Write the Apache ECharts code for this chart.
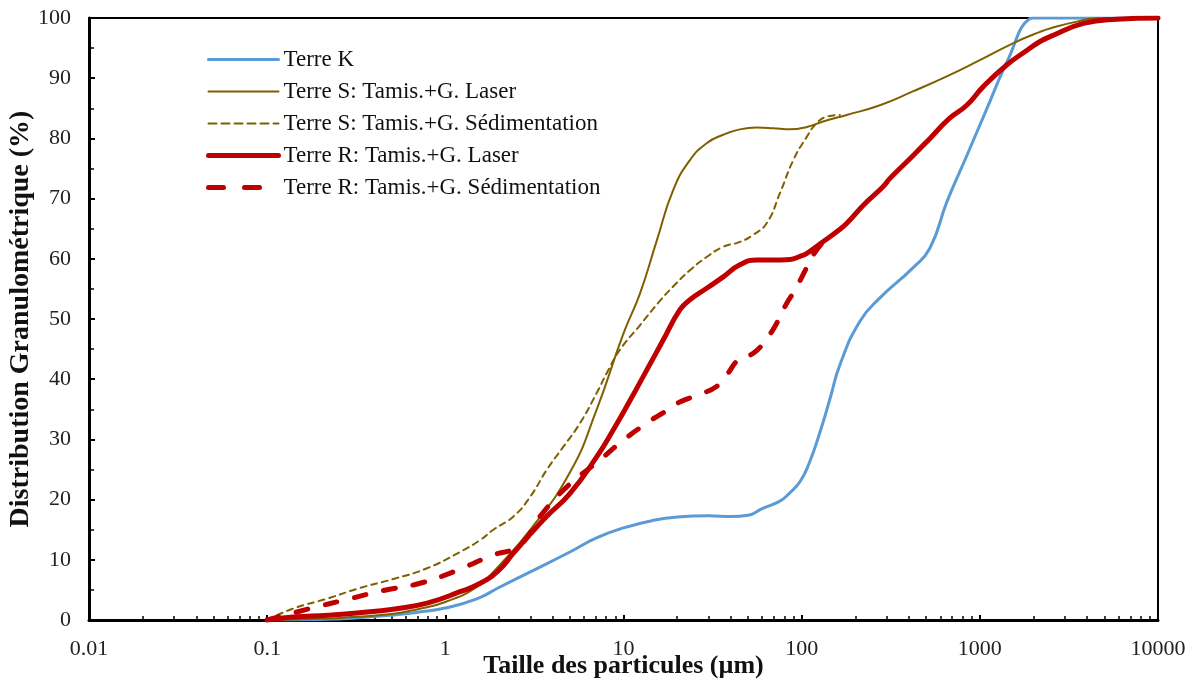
<!DOCTYPE html>
<html>
<head>
<meta charset="utf-8">
<script src="https://cdn.jsdelivr.net/npm/echarts@6/dist/echarts.min.js"></script>
<style>html,body{margin:0;padding:0;background:#fff}#c{width:1193px;height:680px}</style>
</head>
<body>
<div id="c"></div>
<script>
// ---- Data (particle size in µm, cumulative %) ----
const seriesNames = [
  'Terre K',
  'Terre S: Tamis.+G. Laser',
  'Terre S: Tamis.+G. Sédimentation',
  'Terre R: Tamis.+G. Laser',
  'Terre R: Tamis.+G. Sédimentation'
];
const xTickLabels = ['0.01', '0.1', '1', '10', '100', '1000', '10000'];

const kX = [0.1, 0.2, 0.3, 0.5, 0.7, 1, 1.5, 2, 3, 5, 7, 10, 15, 20, 30, 40, 50, 60, 75, 85, 98, 110, 127, 145, 164, 212, 275, 421, 525, 654, 847, 1097, 1420, 1911, 2000, 10000];
const kY = [0, 0.1, 0.3, 0.8, 1.3, 2.0, 3.5, 5.4, 8.0, 11.3, 13.6, 15.3, 16.6, 17.1, 17.3, 17.2, 17.4, 18.5, 19.7, 21, 23, 26, 31.3, 37, 42.4, 49.6, 53.5, 58.5, 61.8, 69.5, 77.2, 85, 92.7, 99.9, 100, 100];

const sLaserX = [0.1, 0.2, 0.3, 0.5, 0.7, 1, 1.5, 2, 3, 5, 7, 10, 12.4, 15.4, 19, 23.6, 29.3, 36.2, 45, 56, 69, 86, 107, 132, 179, 275, 421, 652, 1000, 1535, 2178, 2500, 3500, 4700, 10000];
const sLaserY = [0, 0.2, 0.5, 1.0, 1.8, 3.0, 5.5, 9, 15, 24.5, 34.6, 47.6, 54.3, 63.1, 71.4, 76.4, 79.2, 80.6, 81.5, 81.8, 81.7, 81.5, 81.9, 82.8, 83.9, 85.5, 87.8, 90.3, 93, 95.8, 97.7, 98.3, 99.4, 100, 100];

const sSedX = [0.1, 0.14, 0.22, 0.33, 0.51, 0.79, 1.21, 1.57, 1.86, 2.41, 3, 3.7, 4.6, 5.7, 7.07, 8.05, 9.56, 12.4, 16, 19, 23.6, 29.3, 36.3, 45, 53.5, 63.6, 75.5, 89.8, 107, 121, 138, 164];
const sSedY = [0, 1.9, 3.6, 5.3, 6.8, 8.6, 11.3, 13.3, 15, 17.2, 20.5, 24.9, 28.8, 32.7, 37.7, 41, 44.9, 49, 53, 55.4, 58.1, 60.3, 62, 62.8, 64, 65.9, 70.9, 76.4, 80.3, 82.5, 83.6, 83.9];

const rLaserX = [0.1, 0.14, 0.22, 0.33, 0.51, 0.79, 1.21, 1.57, 2, 2.41, 3, 3.7, 5, 7.07, 8.77, 10.9, 13.5, 16.7, 20.7, 23.6, 29.3, 36.3, 45, 56, 69, 86, 98, 107, 127, 164, 186, 222, 287, 314, 424, 525, 680, 844, 1045, 1415, 1833, 2178, 2477, 3809, 5866, 10000];
const rLaserY = [0, 0.5, 0.8, 1.2, 1.8, 2.8, 4.7, 6.1, 8.3, 11.1, 14.3, 17.2, 21, 27.1, 31.6, 36.5, 41.5, 46.5, 51.5, 53.2, 55.1, 57, 59, 59.8, 59.8, 59.9, 60.4, 60.9, 62.5, 64.9, 66.4, 68.9, 72, 73.4, 77.2, 80, 83.4, 85.5, 88.6, 92.2, 94.6, 96.1, 96.9, 99.1, 99.8, 100];

const rSedX = [0.1, 0.174, 0.279, 0.449, 0.721, 1.11, 1.78, 2.63, 3.4, 4.8, 7.38, 10, 13.8, 15.4, 17.1, 20.7, 26.3, 33.3, 37.9, 45.1, 53.5, 64.5, 72.4, 82.4, 91.7, 104, 114, 138, 150];
const rSedY = [0, 1.9, 3.4, 4.9, 6.1, 8.0, 10.6, 12.5, 17.2, 22.1, 26.6, 29.9, 32.9, 33.8, 34.6, 36.2, 37.4, 38.8, 40.7, 43.5, 44.3, 47, 49.3, 52.6, 54.8, 57.9, 60.3, 63.4, 64.2];

const zip = (xs, ys) => xs.map((x, i) => [x, ys[i]]);

const FONT = '"Liberation Serif", "Times New Roman", serif';
const chart = echarts.init(document.getElementById('c'), null, { renderer: 'canvas' });

const styles = [
  { color: '#5B9BD5', width: 3, type: 'solid', legendType: 'solid' },
  { color: '#7F6000', width: 2, type: 'solid', legendType: 'solid' },
  { color: '#7F6000', width: 2, type: [6, 5], legendType: [8, 5] },
  { color: '#C00000', width: 5, type: 'solid', legendType: 'solid' },
  { color: '#C00000', width: 5, type: [12, 18], legendType: [15, 21] }
];
const datasets = [zip(kX, kY), zip(sLaserX, sLaserY), zip(sSedX, sSedY), zip(rLaserX, rLaserY), zip(rSedX, rSedY)];

chart.setOption({
  animation: false,
  backgroundColor: '#fff',
  textStyle: { fontFamily: FONT, color: '#111' },
  grid: { left: 89, right: 35, top: 18, bottom: 60, show: true, borderColor: '#000', borderWidth: 2, containLabel: false, outerBoundsMode: 'none' },
  legend: {
    show: true, orient: 'vertical', left: 201, top: 43,
    itemWidth: 70, itemHeight: 14, itemGap: 9,
    itemStyle: { opacity: 0, borderWidth: 0 },
    textStyle: { fontFamily: FONT, fontSize: 23, color: '#111', lineHeight: 23 },
    data: seriesNames.map((n, i) => ({
      name: n,
      itemStyle: { opacity: 0, borderWidth: 0 },
      lineStyle: { color: styles[i].color, width: styles[i].width, type: styles[i].legendType, cap: 'round' }
    }))
  },
  xAxis: {
    type: 'log', logBase: 10, min: 0.01, max: 10000,
    name: 'Taille des particules (µm)', nameLocation: 'middle', nameGap: 33, nameMoveOverlap: false,
    nameTextStyle: { fontFamily: FONT, fontSize: 26, fontWeight: 'bold', color: '#111' },
    axisLine: { show: true, onZero: false, lineStyle: { color: '#000', width: 3 } },
    axisTick: { show: true, inside: true, length: 5, lineStyle: { color: '#000', width: 2 } },
    minorTick: { show: true, splitNumber: 9, length: 4, lineStyle: { color: '#000', width: 1.5 } },
    splitLine: { show: false },
    axisLabel: {
      fontFamily: FONT, fontSize: 22, color: '#222', margin: 18,
      formatter: v => xTickLabels[Math.round(Math.log10(v)) + 2]
    }
  },
  yAxis: {
    type: 'value', min: 0, max: 100, interval: 10,
    name: 'Distribution Granulométrique (%)', nameLocation: 'middle', nameGap: 54, nameMoveOverlap: false,
    nameTextStyle: { fontFamily: FONT, fontSize: 28, fontWeight: 'bold', color: '#111' },
    axisLine: { show: true, lineStyle: { color: '#000', width: 3 } },
    axisTick: { show: true, inside: true, length: 6, lineStyle: { color: '#000', width: 2 } },
    minorTick: { show: true, splitNumber: 2, length: 5, lineStyle: { color: '#000', width: 1.5 } },
    splitLine: { show: false },
    axisLabel: { fontFamily: FONT, fontSize: 22, color: '#222', margin: 18 }
  },
  series: seriesNames.map((n, i) => ({
    name: n, type: 'line', data: datasets[i], smooth: 0.5,
    symbol: 'none', showSymbol: false, clip: true,
    lineStyle: { color: styles[i].color, width: styles[i].width, type: styles[i].type, cap: 'round', join: 'round' },
    itemStyle: { color: styles[i].color },
    emphasis: { disabled: true }
  }))
});
</script>
</body>
</html>
